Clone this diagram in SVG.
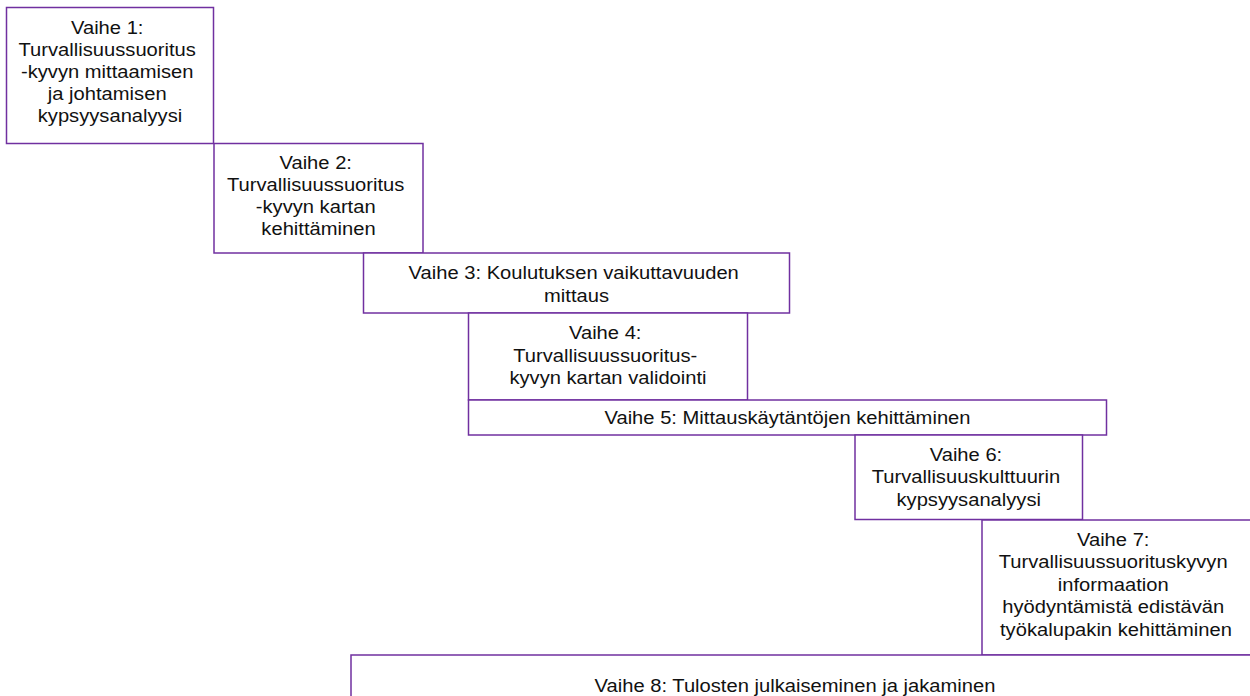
<svg xmlns="http://www.w3.org/2000/svg" width="1250" height="696" viewBox="0 0 1250 696">
  <style>
    .box { fill: #ffffff; stroke: #7030a0; stroke-width: 1.5; }
    .t { font-family: "Liberation Sans", Arial, sans-serif; font-size: 18.5px; fill: #111111; text-anchor: middle; }
  </style>
  <rect x="0" y="0" width="1250" height="696" fill="#ffffff"/>

  <g id="vaihe1">
    <rect class="box" x="6.5" y="7.5" width="207" height="136"/>
    <text class="t" transform="translate(110,0) scale(1.09,1)">
      <tspan x="0" y="34">Vaihe 1:</tspan>
      <tspan x="0" y="56">Turvallisuussuoritus</tspan>
      <tspan x="0" y="78">-kyvyn mittaamisen</tspan>
      <tspan x="0" y="100">ja johtamisen</tspan>
      <tspan x="0" y="122">kypsyysanalyysi</tspan>
    </text>
  </g>

  <g id="vaihe2">
    <rect class="box" x="214" y="143.5" width="209" height="109.5"/>
    <text class="t" transform="translate(318.5,0) scale(1.09,1)">
      <tspan x="0" y="169.5">Vaihe 2:</tspan>
      <tspan x="0" y="191.5">Turvallisuussuoritus</tspan>
      <tspan x="0" y="213.5">-kyvyn kartan</tspan>
      <tspan x="0" y="235.5">kehittäminen</tspan>
    </text>
  </g>

  <g id="vaihe3">
    <rect class="box" x="363.5" y="253" width="426" height="60"/>
    <text class="t" transform="translate(576.5,0) scale(1.09,1)">
      <tspan x="0" y="279.5">Vaihe 3: Koulutuksen vaikuttavuuden</tspan>
      <tspan x="0" y="302">mittaus</tspan>
    </text>
  </g>

  <g id="vaihe4">
    <rect class="box" x="468.5" y="313" width="279" height="87"/>
    <text class="t" transform="translate(608,0) scale(1.09,1)">
      <tspan x="0" y="339.5">Vaihe 4:</tspan>
      <tspan x="0" y="362">Turvallisuussuoritus-</tspan>
      <tspan x="0" y="384.5">kyvyn kartan validointi</tspan>
    </text>
  </g>

  <g id="vaihe5">
    <rect class="box" x="468.5" y="400" width="638" height="35"/>
    <text class="t" transform="translate(787.5,0) scale(1.09,1)">
      <tspan x="0" y="424">Vaihe 5: Mittauskäytäntöjen kehittäminen</tspan>
    </text>
  </g>

  <g id="vaihe6">
    <rect class="box" x="855" y="435" width="227.5" height="84.5"/>
    <text class="t" transform="translate(968.75,0) scale(1.09,1)">
      <tspan x="0" y="461">Vaihe 6:</tspan>
      <tspan x="0" y="483.5">Turvallisuuskulttuurin</tspan>
      <tspan x="0" y="506">kypsyysanalyysi</tspan>
    </text>
  </g>

  <g id="vaihe7">
    <rect class="box" x="982" y="520" width="280" height="135"/>
    <text class="t" transform="translate(1116,0) scale(1.09,1)">
      <tspan x="0" y="546">Vaihe 7:</tspan>
      <tspan x="0" y="568.5">Turvallisuussuorituskyvyn</tspan>
      <tspan x="0" y="591">informaation</tspan>
      <tspan x="0" y="613.5">hyödyntämistä edistävän</tspan>
      <tspan x="0" y="636">työkalupakin kehittäminen</tspan>
    </text>
  </g>

  <g id="vaihe8">
    <rect class="box" x="351" y="655" width="920" height="60"/>
    <text class="t" transform="translate(795,0) scale(1.09,1)">
      <tspan x="0" y="692">Vaihe 8: Tulosten julkaiseminen ja jakaminen</tspan>
    </text>
  </g>

  <g id="connectors"/>
</svg>
